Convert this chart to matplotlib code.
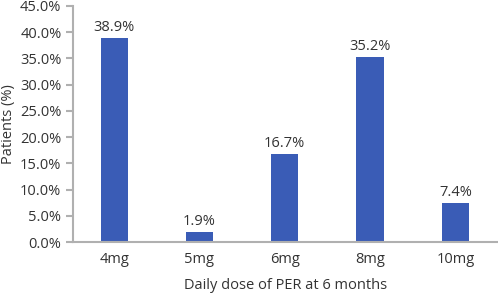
import matplotlib.pyplot as plt
from matplotlib.ticker import FuncFormatter

plt.rcParams['font.family'] = ['Open Sans', 'DejaVu Sans']

doses = ["4mg", "5mg", "6mg", "8mg", "10mg"]
patients_pct = [38.9, 1.9, 16.7, 35.2, 7.4]

fig = plt.figure(figsize=(4.98, 2.97), dpi=100)
ax = fig.add_axes([0.147, 0.185, 0.853, 0.795])

bars = ax.bar(range(len(doses)), patients_pct, width=0.32, color="#3a5cb6")
for b, v in zip(bars, patients_pct):
    ax.text(b.get_x() + b.get_width() / 2, v + 0.6, f"{v:.1f}%",
            ha="center", va="bottom", fontsize=10.5, color="#333333")

ax.set_xlim(-0.48, 4.5)
ax.set_ylim(0, 45)
ax.set_yticks([i * 5 for i in range(10)])
ax.yaxis.set_major_formatter(FuncFormatter(lambda y, _: f"{y:.1f}%"))
ax.set_xticks(range(len(doses)))
ax.set_xticklabels(doses)

for s in ["top", "right"]:
    ax.spines[s].set_visible(False)
for s in ["left", "bottom"]:
    ax.spines[s].set_color("#b0b0b0")
    ax.spines[s].set_linewidth(1.5)
ax.tick_params(axis="y", colors="#b0b0b0", length=5, width=1.5, labelcolor="#333333", labelsize=10.5)
ax.tick_params(axis="x", length=0, labelcolor="#333333", labelsize=10.5, pad=7)

ax.set_xlabel("Daily dose of PER at 6 months", fontsize=10.5, color="#333333", labelpad=8)
ax.set_ylabel("Patients (%)", fontsize=10.5, color="#333333", labelpad=3)

fig.savefig("out.png", dpi=100)
